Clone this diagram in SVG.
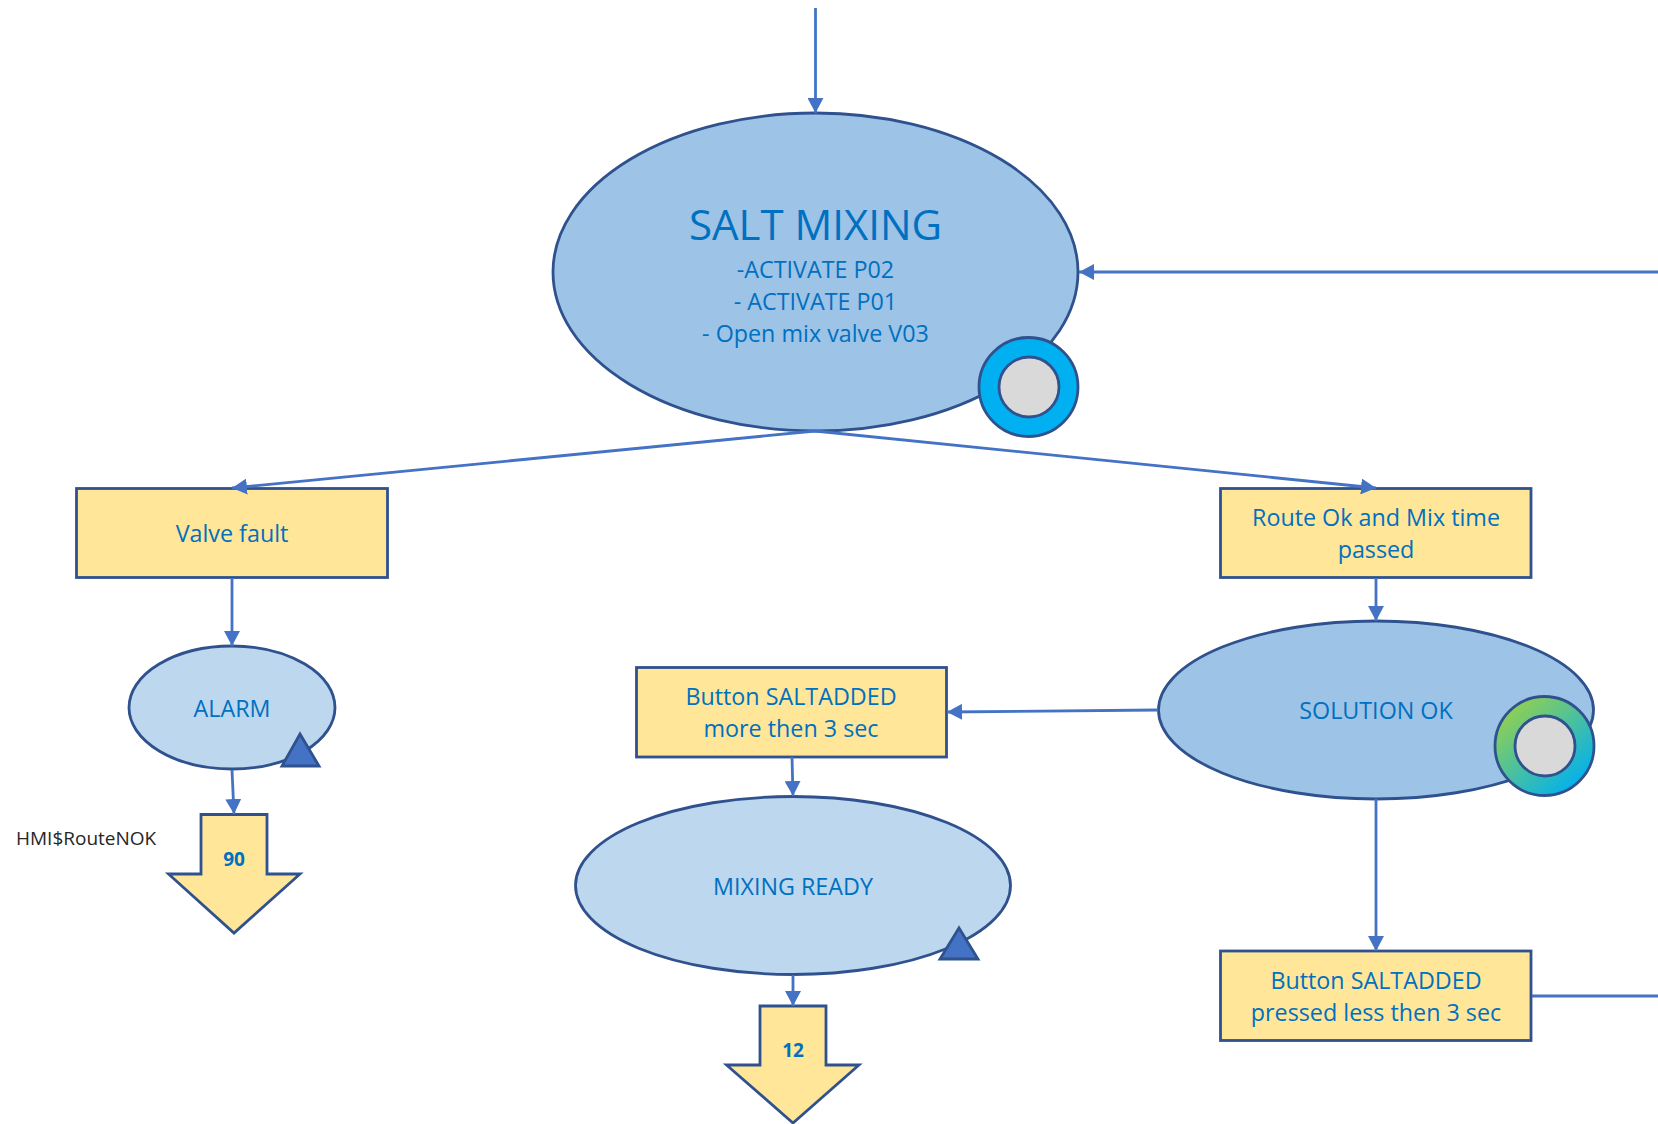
<svg xmlns="http://www.w3.org/2000/svg" width="1658" height="1124" viewBox="0 0 1658 1124">
<style>
text{font-family:"Open Sans","Liberation Sans",sans-serif;fill:#0070C0;font-size:23.3px;text-anchor:middle}
.s{fill:#FFE699;stroke:#2F528F;stroke-width:2.8}
.e1{fill:#9DC3E6;stroke:#2F528F;stroke-width:2.8}
.e2{fill:#BDD7EE;stroke:#2F528F;stroke-width:2.8}
.t{fill:#4472C4;stroke:#2F528F;stroke-width:2.8}
.g{fill:#D9D9D9;stroke:#2F528F;stroke-width:2.8}
.c line{stroke:#4472C4;stroke-width:2.8}
.b{font-weight:700;font-size:19px}
</style>
<defs>
<marker id="a" markerUnits="userSpaceOnUse" markerWidth="16" markerHeight="16" refX="15" refY="8" orient="auto"><path d="M0 0L15 8L0 16Z" fill="#4472C4"/></marker>
<linearGradient id="gr" x1="0.15" y1="0.1" x2="0.85" y2="0.9"><stop offset="0" stop-color="#92D050"/><stop offset="1" stop-color="#00B0F0"/></linearGradient>
</defs>
<rect width="1658" height="1124" fill="#fff"/>
<g id="salt-mixing">
<ellipse class="e1" cx="815.500" cy="272" rx="262.500" ry="159"/>
<text x="815.500" y="240" style="font-size:42px">SALT MIXING</text>
<text x="815.500" y="278">-ACTIVATE P02</text>
<text x="815.500" y="310">- ACTIVATE P01</text>
<text x="815.500" y="342">- Open mix valve V03</text>
<circle cx="1028.500" cy="387" r="49.500" fill="#00B0F0" stroke="#2F528F" stroke-width="2.8"/>
<circle class="g" cx="1029" cy="387" r="30"/>
</g>
<g id="valve-fault">
<rect class="s" x="76.500" y="488.500" width="311" height="89"/>
<text x="232" y="542">Valve fault</text>
</g>
<g id="route-ok">
<rect class="s" x="1220.500" y="488.500" width="310.500" height="89"/>
<text x="1376" y="526">Route Ok and Mix time</text>
<text x="1376" y="558">passed</text>
</g>
<g id="alarm">
<ellipse class="e2" cx="232" cy="707.500" rx="103" ry="61.500"/>
<text x="232" y="717">ALARM</text>
<path class="t" d="M300 734L319 766H282Z"/>
</g>
<g id="step-90">
<path class="s" d="M201 814.500H267V874H300L234 933L168.500 874H201Z"/>
<text class="b" x="234" y="866">90</text>
</g>
<text x="16" y="845" style="font-size:19px;fill:#262626;text-anchor:start">HMI$RouteNOK</text>
<g id="button-more">
<rect class="s" x="636.500" y="667.500" width="310" height="89.500"/>
<text x="791" y="705">Button SALTADDED</text>
<text x="791" y="737">more then 3 sec</text>
</g>
<g id="solution-ok">
<ellipse class="e1" cx="1376" cy="710" rx="217.500" ry="89"/>
<text x="1376" y="719">SOLUTION OK</text>
<circle cx="1544.500" cy="746" r="49.500" fill="url(#gr)" stroke="#2F528F" stroke-width="2.8"/>
<circle class="g" cx="1545" cy="746" r="30"/>
</g>
<g id="mixing-ready">
<ellipse class="e2" cx="793" cy="885.500" rx="217.500" ry="89"/>
<text x="793" y="895">MIXING READY</text>
<path class="t" d="M959 928L978 959H940Z"/>
</g>
<g id="step-12">
<path class="s" d="M760 1006H826V1065H859L793 1123L726.500 1065H760Z"/>
<text class="b" x="793" y="1057">12</text>
</g>
<g id="button-less">
<rect class="s" x="1220.500" y="951" width="310.500" height="89.500"/>
<text x="1376" y="989">Button SALTADDED</text>
<text x="1376" y="1021">pressed less then 3 sec</text>
</g>
<g id="connectors" class="c">
<line x1="815.500" y1="8" x2="815.500" y2="113" marker-end="url(#a)"/>
<line x1="1658" y1="272" x2="1079" y2="272" marker-end="url(#a)"/>
<line x1="815" y1="431" x2="232" y2="488" marker-end="url(#a)"/>
<line x1="815" y1="431" x2="1376" y2="488" marker-end="url(#a)"/>
<line x1="232" y1="578" x2="232" y2="646" marker-end="url(#a)"/>
<line x1="1376" y1="578" x2="1376" y2="621" marker-end="url(#a)"/>
<line x1="1158" y1="710" x2="947" y2="712" marker-end="url(#a)"/>
<line x1="792" y1="757" x2="793" y2="796" marker-end="url(#a)"/>
<line x1="1376" y1="799" x2="1376" y2="951" marker-end="url(#a)"/>
<line x1="1532" y1="996" x2="1658" y2="996"/>
<line x1="232" y1="770" x2="234" y2="814" marker-end="url(#a)"/>
<line x1="793" y1="975" x2="793" y2="1006" marker-end="url(#a)"/>
</g>
</svg>
